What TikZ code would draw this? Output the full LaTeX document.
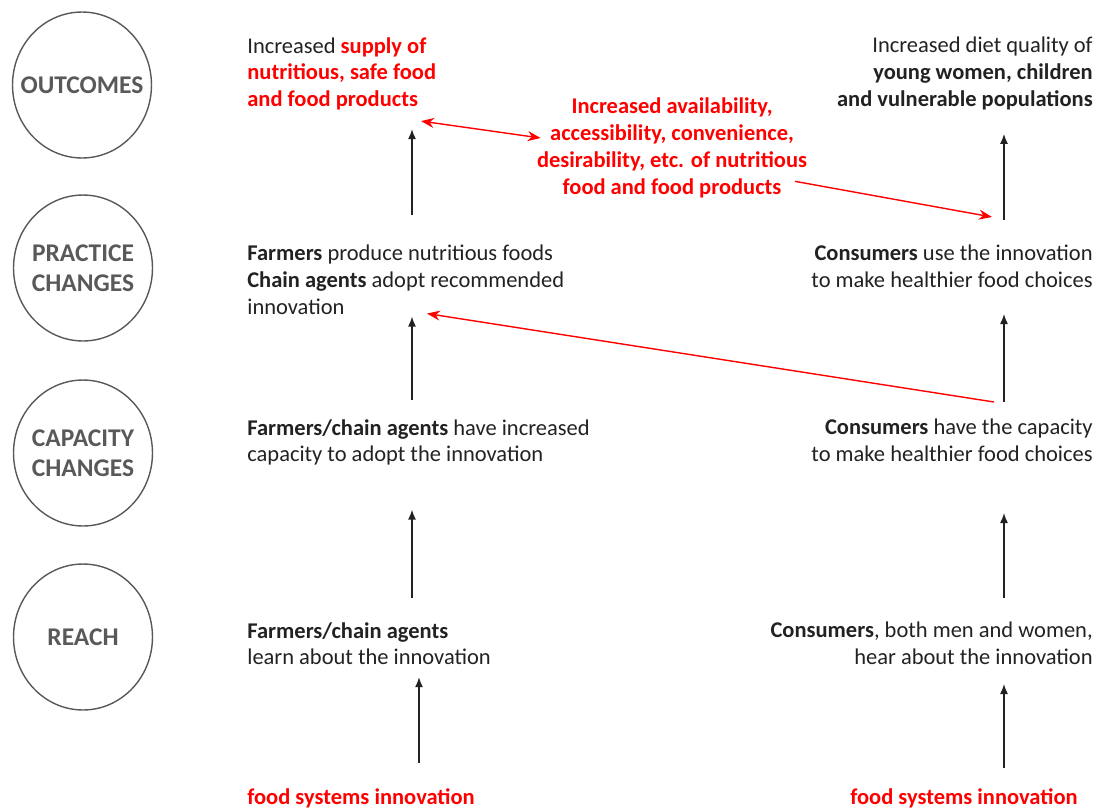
\documentclass[tikz,border=0pt]{standalone}
\usepackage{fontspec}
\setmainfont{Carlito}
\usepackage{xcolor}
\usetikzlibrary{arrows.meta,positioning,shapes,calc}
\definecolor{ink}{HTML}{222222}
\definecolor{inkgray}{HTML}{595959}
\definecolor{accentred}{HTML}{FF0000}
\newcommand{\hl}[1]{\textcolor{accentred}{\bfseries #1}}
\tikzset{
  stagecirc/.style={draw=inkgray,line width=0.8pt,ellipse,
                    minimum width=2.78cm,minimum height=2.92cm,inner sep=0pt},
  stagetxt/.style={align=center,text=inkgray,inner sep=0pt,
                   font=\fontsize{14.5}{17}\selectfont\bfseries},
  leftcard/.style={anchor=north west,align=left,inner sep=0pt,
                   text=ink,font=\fontsize{12.8}{15.1}\selectfont},
  rightcard/.style={anchor=north east,align=right,inner sep=0pt,
                    text=ink,font=\fontsize{12.8}{15.1}\selectfont},
  redcard/.style={align=center,inner sep=0pt,text=accentred,
                  font=\fontsize{12.8}{15.3}\selectfont\bfseries},
  flowarr/.style={-{Latex[length=2mm,width=1.6mm]},line width=0.8pt,color=ink},
  redarr/.style={-{Stealth[length=2.6mm,width=2mm]},line width=0.8pt,color=accentred}
}

\begin{document}
\begin{tikzpicture}[x=0.02cm,y=-0.02cm,>=Latex]
  \useasboundingbox (0,0) rectangle (1103,809);

  % stages
  \node[stagecirc,label={[stagetxt]center:OUTCOMES}] (outc) at (82,85) {};
  \node[stagecirc,label={[stagetxt]center:PRACTICE\\CHANGES}] (prac) at (83,268) {};
  \node[stagecirc,label={[stagetxt]center:CAPACITY\\CHANGES}] (capc) at (83,453) {};
  \node[stagecirc,label={[stagetxt]center:REACH}] (reach) at (83,637) {};

  % left column
  \node[leftcard] (supplyL) at (247,37) {Increased \hl{supply of}\\\hl{nutritious, safe food}\\\hl{and food products}};
  \node[leftcard] (pracL) at (247,245) {\textbf{Farmers} produce nutritious foods\\\textbf{Chain agents} adopt recommended\\innovation};
  \node[leftcard] (capL) at (247,419) {\textbf{Farmers/chain agents} have increased\\capacity to adopt the innovation};
  \node[leftcard] (reachL) at (247,622) {\textbf{Farmers/chain agents}\\learn about the innovation};
  \node[leftcard,text=accentred,font=\fontsize{12.8}{15}\selectfont\bfseries] (innovL) at (247,788) {food systems innovation};

  % right column
  \node[rightcard] (dietR) at (1093,37) {Increased diet quality of\\\textbf{young women, children}\\\textbf{and vulnerable populations}};
  \node[rightcard] (pracR) at (1093,245) {\textbf{Consumers} use the innovation\\to make healthier food choices};
  \node[rightcard] (capR) at (1093,419) {\textbf{Consumers} have the capacity\\to make healthier food choices};
  \node[rightcard] (reachR) at (1093,622) {\textbf{Consumers}, both men and women,\\hear about the innovation};
  \node[rightcard,text=accentred,font=\fontsize{12.8}{15}\selectfont\bfseries] (innovR) at (1078,788) {food systems innovation};

  % linking text
  \node[redcard] (avail) at (672,148) {Increased availability,\\accessibility, convenience,\\desirability, etc. of nutritious\\food and food products};

  \coordinate (colL) at (412,0);
  \coordinate (colLb) at (419,0);
  \coordinate (colR) at (1004,0);

  % upward arrows
  \draw[flowarr,shorten <=0.6cm,shorten >=0.38cm] (pracL.north -| colL) -- (supplyL.south -| colL);
  \draw[flowarr,shorten <=0.38cm,shorten >=0.04cm] (capL.north -| colL) -- (pracL.south -| colL);
  \draw[flowarr,shorten <=0.48cm,shorten >=0.88cm] (reachL.north -| colL) -- (capL.south -| colL);
  \draw[flowarr,shorten <=0.5cm,shorten >=0.24cm] (innovL.north -| colLb) -- (reachL.south -| colLb);

  \draw[flowarr,shorten <=0.5cm,shorten >=0.48cm] (pracR.north -| colR) -- (dietR.south -| colR);
  \draw[flowarr,shorten <=0.34cm,shorten >=0.52cm] (capR.north -| colR) -- (pracR.south -| colR);
  \draw[flowarr,shorten <=0.48cm,shorten >=1.02cm] (reachR.north -| colR) -- (capR.south -| colR);
  \draw[flowarr,shorten <=0.4cm,shorten >=0.38cm] (innovR.north -| colR) -- (reachR.south -| colR);

  % red links
  \draw[redarr,{Stealth[length=2.6mm,width=2mm]}-{Stealth[length=2.6mm,width=2mm]}]
    ($(supplyL.south -| colL)+(9,11)$) -- ($(avail.west)+(4,-10)$);
  \draw[redarr] ($(avail.south)+(123,-17)$) -- ($(pracR.north -| colR)+(-12,-28)$);
  \draw[redarr] ($(capR.north -| colR)+(-10,-17)$) -- ($(pracL.south -| colL)+(15,-1)$);
\end{tikzpicture}
\end{document}
